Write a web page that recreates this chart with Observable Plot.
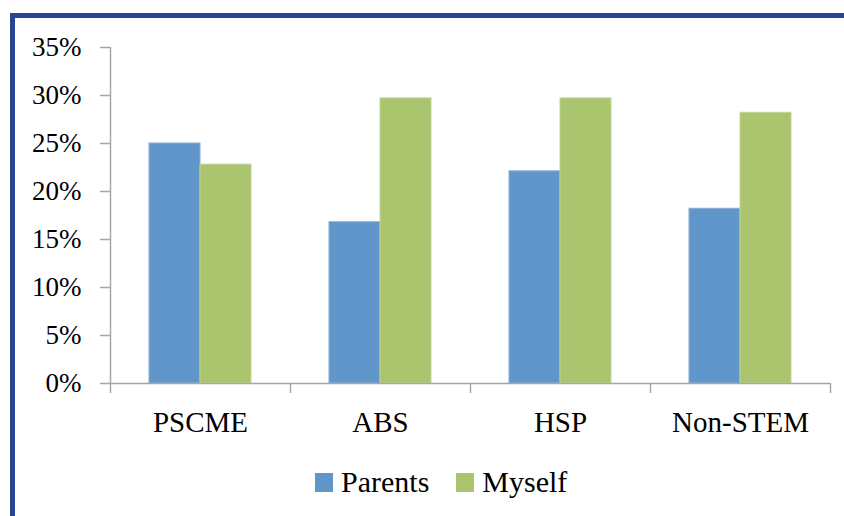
<!DOCTYPE html>
<html>
<head>
<meta charset="utf-8">
<script src="https://cdn.jsdelivr.net/npm/d3@7"></script>
<script src="https://cdn.jsdelivr.net/npm/@observablehq/plot@0.6"></script>
<style>
  html, body { margin: 0; padding: 0; background: #fff; }
  #wrap { position: relative; width: 844px; height: 516px; overflow: hidden; font-family: "Liberation Serif", serif; }
  #border { position: absolute; left: 10px; top: 13px; right: 0; bottom: 0; border-top: 5px solid #2a4494; border-left: 5px solid #2a4494; }
  #chart { position: absolute; left: 0; top: 0; }
  #legend { position: absolute; left: 315px; top: 466px; display: flex; align-items: center; font-size: 30px; line-height: 32px; color: #000; }
  .item { display: flex; align-items: center; margin-right: 27px; }
  .sw { width: 18px; height: 19px; margin-right: 8px; }
</style>
</head>
<body>
<div id="wrap">
  <div id="border"></div>
  <div id="chart"></div>
  <div id="legend"></div>
</div>
<script>
const categories = ["PSCME", "ABS", "HSP", "Non-STEM"];
const series = ["Parents", "Myself"];
const parents = [0.250, 0.168, 0.221, 0.182];
const myself = [0.228, 0.297, 0.297, 0.282];
const yTicks = [0, 0.05, 0.10, 0.15, 0.20, 0.25, 0.30, 0.35];
const colors = ["#6096c9", "#abc46e"];
const edgeColors = ["#86acd8", "#c2d59a"];

const barFrac = 51 / 180;
const rows = [];
categories.forEach((c, i) => {
  [parents, myself].forEach((vals, s) => {
    rows.push({
      category: c,
      series: series[s],
      value: vals[i],
      x1: i + 0.5 - barFrac + s * barFrac,
      x2: i + 0.5 + s * barFrac
    });
  });
});

const serif = "Liberation Serif";
const axisColor = "#a6a6a6";
const plot = Plot.plot({
  width: 844,
  height: 450,
  marginLeft: 110,
  marginRight: 14,
  marginTop: 47,
  marginBottom: 67,
  style: { fontFamily: serif, background: "transparent", color: "#000" },
  x: { domain: [0, categories.length], axis: null },
  y: { domain: [0, 0.35], axis: null },
  color: { domain: series, range: colors },
  marks: [
    Plot.rect(rows, {
      x1: "x1", x2: "x2", y1: 0, y2: "value",
      fill: "series",
      stroke: d => edgeColors[series.indexOf(d.series)],
      strokeWidth: 1
    }),
    Plot.ruleX([0], { y1: 0, y2: 0.35, stroke: axisColor, strokeWidth: 1.5 }),
    Plot.ruleY([0], { x1: 0, x2: categories.length, stroke: axisColor, strokeWidth: 1.5 }),
    Plot.axisY({
      ticks: yTicks, tickSize: 10, tickPadding: 19,
      tickFormat: d3.format(".0%"), fontSize: 27, fontFamily: serif,
      stroke: axisColor, strokeWidth: 1.5, fill: "#000", label: null
    }),
    Plot.axisX({
      ticks: d3.range(categories.length + 1), tickSize: 10,
      tickFormat: () => "", stroke: axisColor, strokeWidth: 1.5, label: null
    }),
    Plot.axisX({
      ticks: categories.map((c, i) => i + 0.5), tickSize: 0, tickPadding: 28,
      tickFormat: t => categories[Math.floor(t)], fontSize: 29, fontFamily: serif, fill: "#000", label: null
    })
  ]
});
document.getElementById("chart").appendChild(plot);

const legend = document.getElementById("legend");
series.forEach((s, i) => {
  const item = document.createElement("div");
  item.className = "item";
  const sw = document.createElement("div");
  sw.className = "sw";
  sw.style.background = colors[i];
  const t = document.createElement("span");
  t.textContent = s;
  item.appendChild(sw);
  item.appendChild(t);
  legend.appendChild(item);
});
</script>
</body>
</html>
